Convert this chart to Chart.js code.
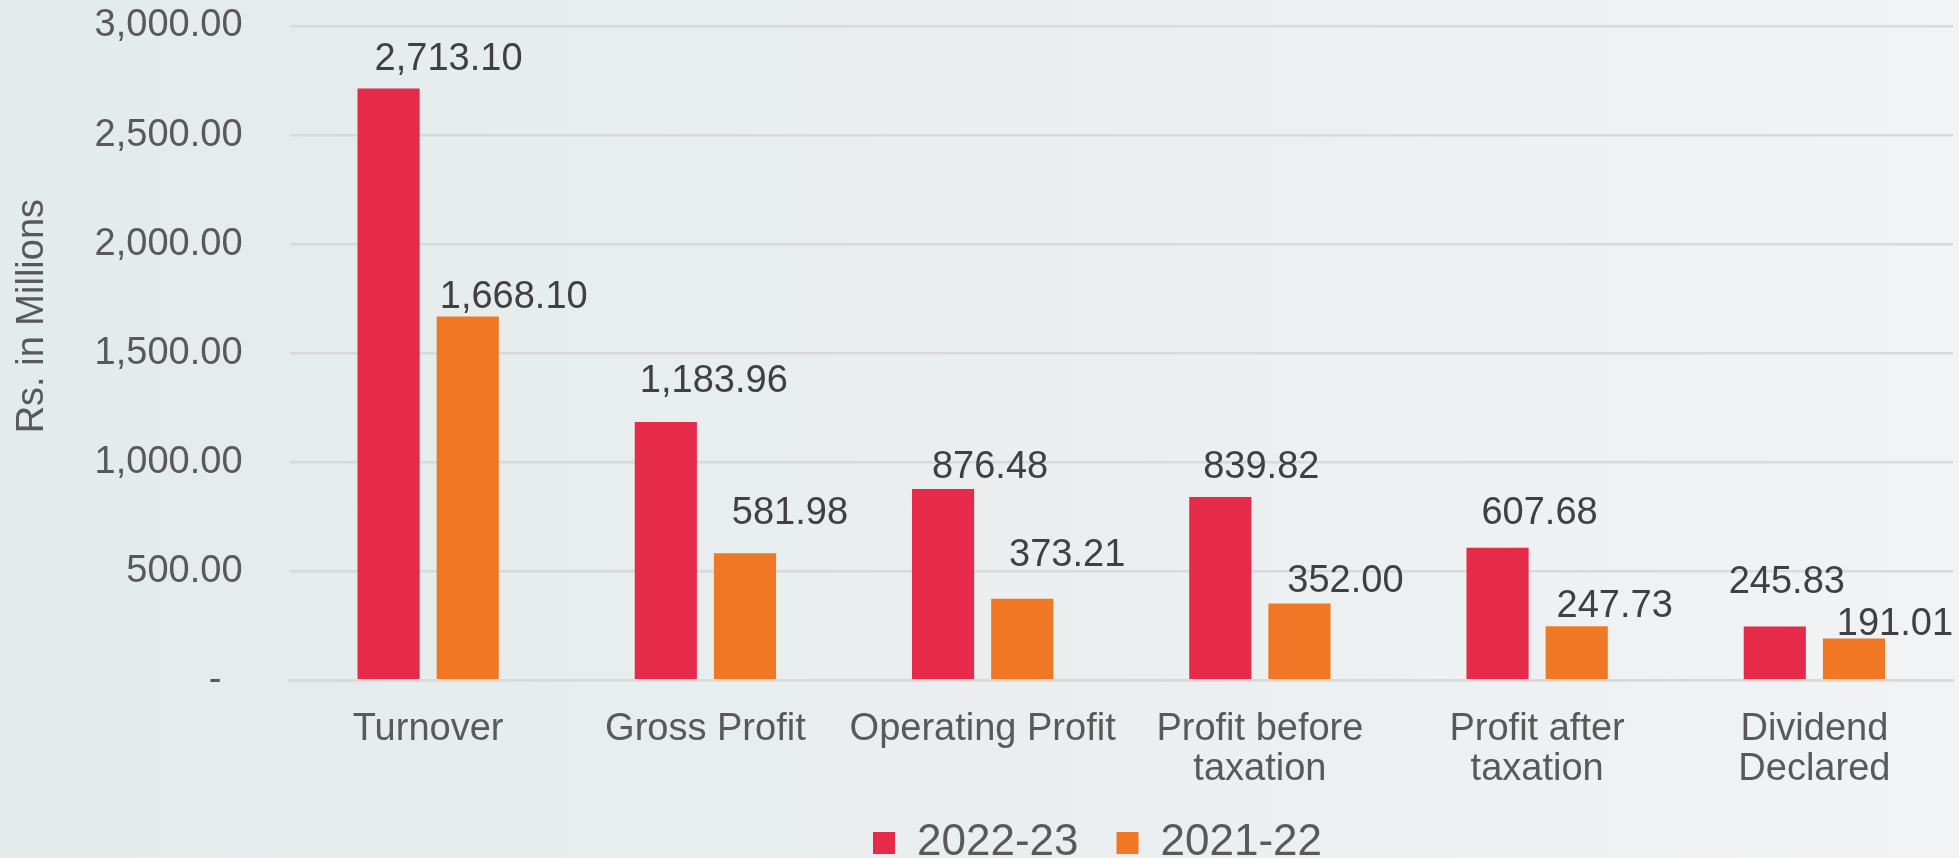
<!DOCTYPE html>
<html>
<head>
<meta charset="utf-8">
<script src="https://cdn.jsdelivr.net/npm/chart.js@4.4.1/dist/chart.umd.min.js"></script>
<style>
  html, body { margin: 0; padding: 0; }
  body {
    width: 1959px; height: 858px; overflow: hidden;
    background: linear-gradient(90deg, #e4ebeb 0%, #eaeeef 50%, #f1f3f4 100%);
  }
  #wrap { width: 1959px; height: 858px; }
</style>
</head>
<body>
<div id="wrap"><canvas id="chart" width="1959" height="858"></canvas></div>
<script>
// ---- data ----
const categories = [
    'Turnover',
    'Gross Profit',
    'Operating Profit',
    ['Profit before', 'taxation'],
    ['Profit after', 'taxation'],
    ['Dividend', 'Declared']
];
const seriesNames = ['2022-23', '2021-22'];
const values2223 = [2713.10, 1183.96, 876.48, 839.82, 607.68, 245.83];
const values2122 = [1668.10, 581.98, 373.21, 352.00, 247.73, 191.01];
const yTicks = [0, 500, 1000, 1500, 2000, 2500, 3000];

// label nudges (px) relative to the bar top, as placed in the source chart
const labelShift = [
    { dx: [60, 48, 47, 41, 42, 12], dy: [-32, -44, -25, -33, -37, -47] },
    { dx: [46, 45, 45, 46, 38, 41], dy: [-22, -43, -46, -25, -23, -17] }
];

const FONT = "'Liberation Sans', Arial, sans-serif";
const fmt = v => v.toLocaleString('en-US', { minimumFractionDigits: 2, maximumFractionDigits: 2 });

const valueLabels = {
    id: 'valueLabels',
    afterDatasetsDraw(chart) {
        const ctx = chart.ctx;
        ctx.save();
        ctx.font = '38px ' + FONT;
        ctx.fillStyle = '#404040';
        ctx.textAlign = 'center';
        ctx.textBaseline = 'alphabetic';
        chart.data.datasets.forEach((ds, di) => {
            const meta = chart.getDatasetMeta(di);
            meta.data.forEach((bar, i) => {
                const s = labelShift[di];
                ctx.fillText(fmt(ds.data[i]), bar.x + s.dx[i], bar.y + s.dy[i] + 13.5);
            });
        });
        ctx.restore();
    }
};

// legend sits a bit right of centre and hugs the bottom edge in the source
const legendNudge = {
    id: 'legendNudge',
    afterLayout(chart) {
        const lg = chart.legend;
        if (!lg) return;
        lg.left += 121;
        lg.right += 121;
        lg.top = chart.height - 75;
    }
};

new Chart(document.querySelector('#chart').getContext('2d'), {
    type: 'bar',
    data: {
        labels: categories,
        datasets: [
            { label: seriesNames[0], data: values2223, backgroundColor: '#e62a4a' },
            { label: seriesNames[1], data: values2122, backgroundColor: '#f07724' }
        ]
    },
    options: {
        responsive: false,
        animation: false,
        categoryPercentage: 0.571,
        barPercentage: 0.785,
        layout: { padding: { left: 0, right: 6, top: 26, bottom: 0 } },
        plugins: {
            tooltip: { enabled: false },
            legend: {
                position: 'bottom',
                maxHeight: 39,
                labels: {
                    font: { family: FONT, size: 44 },
                    color: '#595959',
                    boxWidth: 22,
                    boxHeight: 22,
                    padding: 38
                }
            }
        },
        scales: {
            x: {
                grid: { display: false, drawTicks: false },
                border: { display: true, color: '#d9d9d9', width: 2.5 },
                ticks: {
                    font: { family: FONT, size: 38, lineHeight: 1.05 },
                    color: '#595959',
                    padding: 29.5,
                    maxRotation: 0,
                    autoSkip: false
                }
            },
            y: {
                min: 0,
                max: 3000,
                afterBuildTicks: axis => { axis.ticks = yTicks.map(v => ({ value: v })); },
                afterFit: s => {
                    // Chart.js counts tick padding twice; keep it once and drop the extra top/bottom room
                    s.width -= s.options.ticks.padding;
                    s.paddingTop = 0;
                    s.paddingBottom = 0;
                },
                grid: { color: '#d9d9d9', lineWidth: 2.5, drawTicks: false },
                border: { display: false },
                ticks: {
                    font: { family: FONT, size: 38 },
                    color: '#595959',
                    padding: 47,
                    callback: v => v === 0 ? '-  ' : fmt(v)
                },
                title: {
                    display: true,
                    text: '       Rs. in Millions',
                    font: { family: FONT, size: 38 },
                    color: '#595959',
                    padding: { top: 10, bottom: 39 }
                }
            }
        }
    },
    plugins: [valueLabels, legendNudge]
});
</script>
</body>
</html>
